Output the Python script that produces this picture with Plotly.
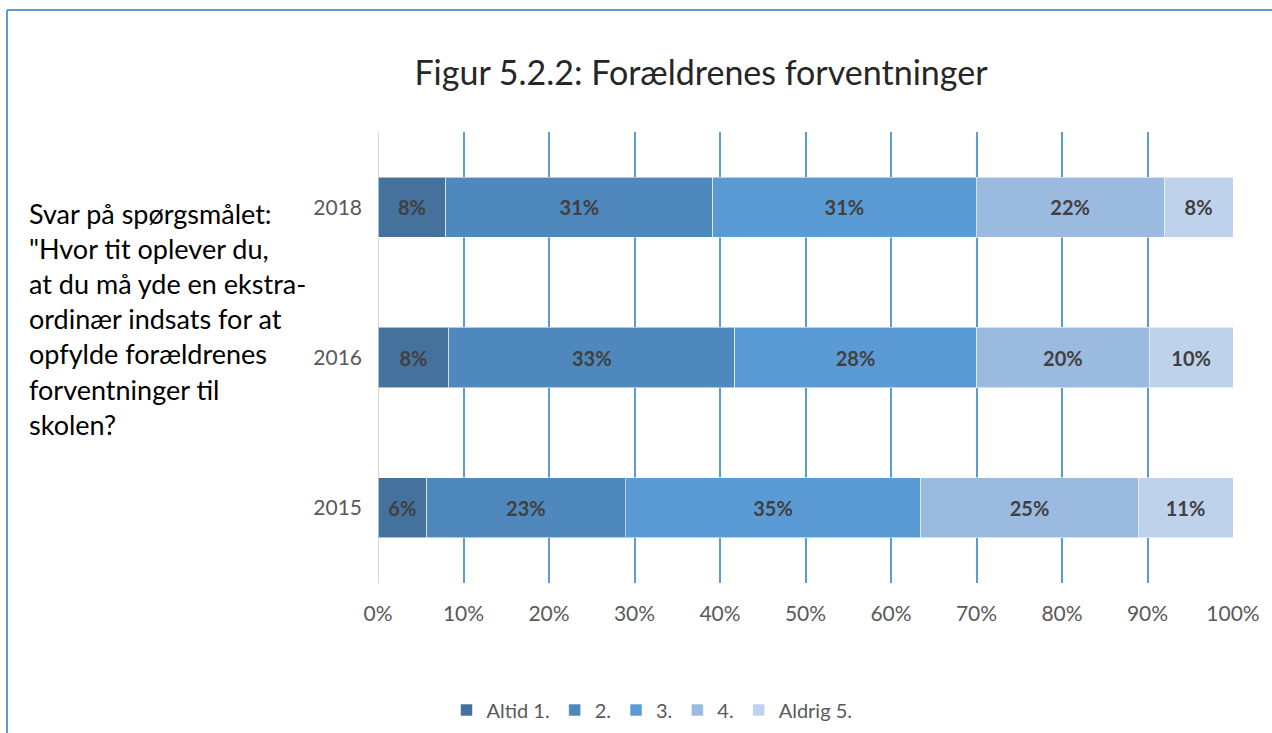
import plotly.graph_objects as go

years = ["2015", "2016", "2018"]
series_names = ["Altid 1.", "2.", "3.", "4.", "Aldrig 5."]
# shares per answer category, ordered as years (2015, 2016, 2018)
altid_1 = [0.057, 0.083, 0.0795]
svar_2 = [0.232, 0.334, 0.312]
svar_3 = [0.346, 0.283, 0.308]
svar_4 = [0.254, 0.202, 0.220]
aldrig_5 = [0.111, 0.098, 0.0805]
series_values = [altid_1, svar_2, svar_3, svar_4, aldrig_5]
colors = ["#44729D", "#4F88BC", "#5B9BD5", "#9BBAE0", "#BED2EC"]
x_ticks = [0, 0.1, 0.2, 0.3, 0.4, 0.5, 0.6, 0.7, 0.8, 0.9, 1.0]
x_ticklabels = ["0%", "10%", "20%", "30%", "40%", "50%", "60%", "70%", "80%", "90%", "100%"]

FONT = "Lato"

fig = go.Figure()
for name, vals, col in zip(series_names, series_values, colors):
    fig.add_trace(go.Bar(
        y=years, x=vals, name=name, orientation="h",
        marker=dict(color=col, line=dict(color="rgba(255,255,255,0.55)", width=1)),
        texttemplate="%{x:.0%}", textposition="inside", insidetextanchor="middle",
        textfont=dict(family=FONT, size=20, color="#404040", weight="bold"),
        hoverinfo="skip",
    ))

fig.update_layout(
    barmode="stack",
    bargap=0.6,
    width=1272, height=733,
    margin=dict(l=378, r=39, t=132, b=150, autoexpand=False),
    paper_bgcolor="white", plot_bgcolor="white",
    title=dict(text="Figur 5.2.2: Forældrenes forventninger", x=701 / 1272, xanchor="center",
               y=1 - 73 / 733, yanchor="middle",
               font=dict(family=FONT, size=34, color="#262626")),
    showlegend=True,
    legend=dict(orientation="h", xref="container", yref="container",
                x=652 / 1272, xanchor="center", y=1 - 710 / 733, yanchor="middle",
                font=dict(family=FONT, size=20, color="#595959"), traceorder="normal",
                itemclick=False),
    uniformtext=dict(mode="show", minsize=10),
)
fig.update_xaxes(range=[0, 1], tickvals=x_ticks, ticktext=x_ticklabels,
                 showgrid=True, gridcolor="#5B9BD5", gridwidth=2,
                 zeroline=True, zerolinecolor="#D9D9D9", zerolinewidth=1,
                 showline=False, ticks="", ticklabelstandoff=16, automargin=False,
                 tickfont=dict(family=FONT, size=21, color="#595959"))
fig.update_yaxes(categoryorder="array", categoryarray=years, showgrid=False,
                 zeroline=False, showline=False, ticks="", ticklabelstandoff=15,
                 automargin=False,
                 tickfont=dict(family=FONT, size=21, color="#595959"))

fig.add_annotation(
    text=("Svar på spørgsmålet:<br>\"Hvor tit oplever du,<br>at du må yde en ekstra-<br>"
          "ordinær indsats for at<br>opfylde forældrenes<br>forventninger til<br>skolen?"),
    xref="paper", yref="paper", x=(27 - 378) / 855, y=(583 - 319) / 451,
    xanchor="left", yanchor="middle", align="left", showarrow=False,
    font=dict(family=FONT, size=27, color="#000000"))

# outer frame lines (top and left)
blue = "#5B9BD5"
fig.add_shape(type="line", xref="paper", yref="paper",
              x0=(7 - 378) / 855, x1=(1272 - 378) / 855,
              y0=(583 - 10) / 451, y1=(583 - 10) / 451, line=dict(color=blue, width=2))
fig.add_shape(type="line", xref="paper", yref="paper",
              x0=(7 - 378) / 855, x1=(7 - 378) / 855,
              y0=(583 - 10) / 451, y1=(583 - 740) / 451, line=dict(color=blue, width=2))

fig.write_html("out.html", config={"displayModeBar": False},
               post_script="document.body.style.margin='0';document.body.style.overflow='hidden';")
